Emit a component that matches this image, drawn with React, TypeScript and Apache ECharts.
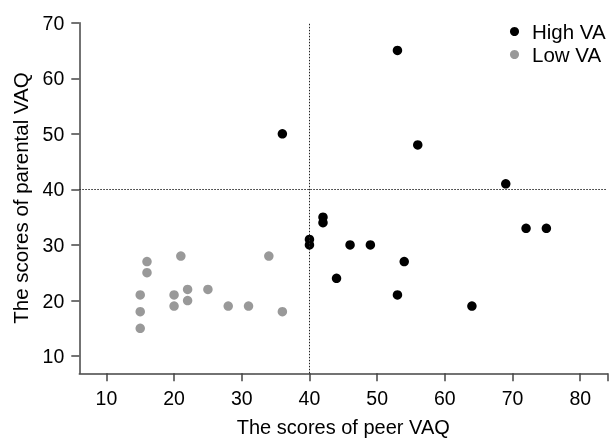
import React, { useEffect, useRef } from "react";
import * as echarts from "echarts";

const highVA: [number, number][] = [
  [36, 50], [40, 31], [40, 30], [42, 35], [42, 34], [44, 24], [46, 30], [49, 30],
  [53, 65], [53, 21], [54, 27], [56, 48], [64, 19], [69, 41], [72, 33], [75, 33],
];
const lowVA: [number, number][] = [
  [15, 21], [15, 18], [15, 15], [16, 27], [16, 25], [20, 21], [20, 19], [21, 28],
  [22, 22], [22, 20], [25, 22], [28, 19], [31, 19], [34, 28], [36, 18],
];
const xTicks = [10, 20, 30, 40, 50, 60, 70, 80];
const yTicks = [10, 20, 30, 40, 50, 60, 70];
const refX = 40;
const refY = 40;

const FONT = "Liberation Sans";

export default function App() {
  const ref = useRef<HTMLDivElement>(null);
  useEffect(() => {
    if (!ref.current) return;
    const chart = echarts.init(ref.current, null, { renderer: "svg" });
    const axisColor = "#444";
    chart.setOption({
      animation: false,
      textStyle: { fontFamily: FONT, color: "#000" },
      grid: { left: 79.3, right: 1.7, top: 22.7, bottom: 66.7, outerBoundsMode: "none", containLabel: false },
      legend: {
        orient: "vertical",
        left: 505,
        top: 16,
        icon: "circle",
        itemWidth: 9,
        itemHeight: 9,
        itemGap: 2,
        textStyle: { fontFamily: FONT, fontSize: 20.5, color: "#000", padding: [0, 0, 0, 8] },
        data: ["High VA", "Low VA"],
      },
      xAxis: {
        type: "value",
        min: 6,
        max: 84,
        name: "The scores of peer VAQ",
        nameLocation: "middle",
        nameGap: 44,
        nameTextStyle: { fontFamily: FONT, fontSize: 20, color: "#000" },
        axisLine: { show: true, lineStyle: { color: axisColor, width: 1.5 } },
        axisTick: { show: true, length: 8, customValues: [...xTicks, 84], lineStyle: { color: axisColor, width: 1.5 } },
        axisLabel: { customValues: xTicks, fontSize: 19.5, margin: 15, color: "#000", fontFamily: FONT },
        splitLine: { show: false },
      },
      yAxis: {
        type: "value",
        min: 6.9,
        max: 70,
        name: "The scores of parental VAQ",
        nameLocation: "middle",
        nameGap: 48,
        nameRotate: 90,
        nameTextStyle: { fontFamily: FONT, fontSize: 20.5, color: "#000" },
        axisLine: { show: true, lineStyle: { color: axisColor, width: 1.5 } },
        axisTick: { show: true, length: 8, customValues: yTicks, lineStyle: { color: axisColor, width: 1.5 } },
        axisLabel: { customValues: yTicks, fontSize: 19.5, margin: 15, color: "#000", fontFamily: FONT },
        splitLine: { show: false },
      },
      series: [
        {
          name: "High VA",
          type: "scatter",
          data: highVA,
          symbolSize: 9.5,
          itemStyle: { color: "#000", opacity: 1 },
          z: 3,
          markLine: {
            silent: true,
            symbol: "none",
            label: { show: false },
            lineStyle: { color: "#222", width: 1, type: [1.5, 1.5], opacity: 1 },
            data: [{ xAxis: refX }, { yAxis: refY }],
          },
        },
        {
          name: "Low VA",
          type: "scatter",
          data: lowVA,
          symbolSize: 9.5,
          itemStyle: { color: "#999", opacity: 1 },
          z: 3,
        },
      ],
    });
    return () => chart.dispose();
  }, []);
  return (
    <div
      ref={ref}
      style={{ position: "fixed", left: 0, top: 0, width: 609, height: 440 }}
    />
  );
}
